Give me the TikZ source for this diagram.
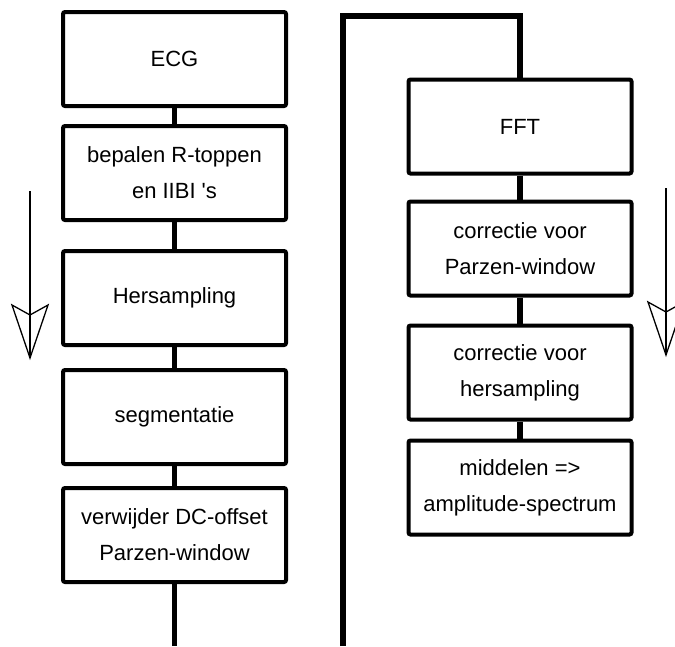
\documentclass[tikz,border=0pt]{standalone}
\usepackage{fontspec}
\newfontfamily\plotfont{Liberation Sans}
\usetikzlibrary{positioning}

\begin{document}
\begin{tikzpicture}[x=1pt,y=-1pt,node distance=25pt,
    stap/.style={draw,line width=4pt,rounded corners=2pt,minimum width=223pt,
      minimum height=94pt,align=center,inner sep=0pt,
      font=\plotfont\fontsize{22}{36}\selectfont},
    link/.style={line width=5.5pt},
    flow/.style={line width=1.3pt,line join=miter}]
  \useasboundingbox (0,0) rectangle (675,646);

  % linker kolom
  \node[stap] (ECG) at (174.5,59) {ECG};
  \node[stap] (R) [below=16pt of ECG] {bepalen R-toppen\\en IIBI 's};
  \node[stap] (her) [below=27pt of R] {Hersampling};
  \node[stap] (seg) [below=21pt of her] {segmentatie};
  \node[stap] (ver) [below=20pt of seg] {verwijder DC-offset\\Parzen-window};

  % rechter kolom
  \node[stap] (FFT) at (520,126.5) {FFT};
  \node[stap] (cPar) [below=24pt of FFT] {correctie voor\\Parzen-window};
  \node[stap] (cHer) [below=26pt of cPar] {correctie voor\\hersampling};
  \node[stap] (mid) [below=17pt of cHer] {middelen =>\\amplitude-spectrum};

  \coordinate (uitL) at (174.5,646);
  \coordinate (inR) at (343,646);
  \coordinate (hoek) at (343,16);

  \path[link]
    (ECG) edge (R)
    (R) edge (her)
    (her) edge (seg)
    (seg) edge (ver)
    (ver) edge (uitL)
    (FFT) edge (cPar)
    (cPar) edge (cHer)
    (cHer) edge (mid);
  \draw[link] (inR) -- (hoek) -| (FFT);

  % richting
  \foreach \ax/\ay in {30/0,666/-3}{
    \draw[flow] (\ax,191+\ay) -- (\ax,358+\ay);
    \draw[flow] (\ax-18,305+\ay) -- (\ax,315+\ay) -- (\ax+18,305+\ay)
      -- (\ax,358+\ay) -- cycle;
  }
\end{tikzpicture}
\end{document}
